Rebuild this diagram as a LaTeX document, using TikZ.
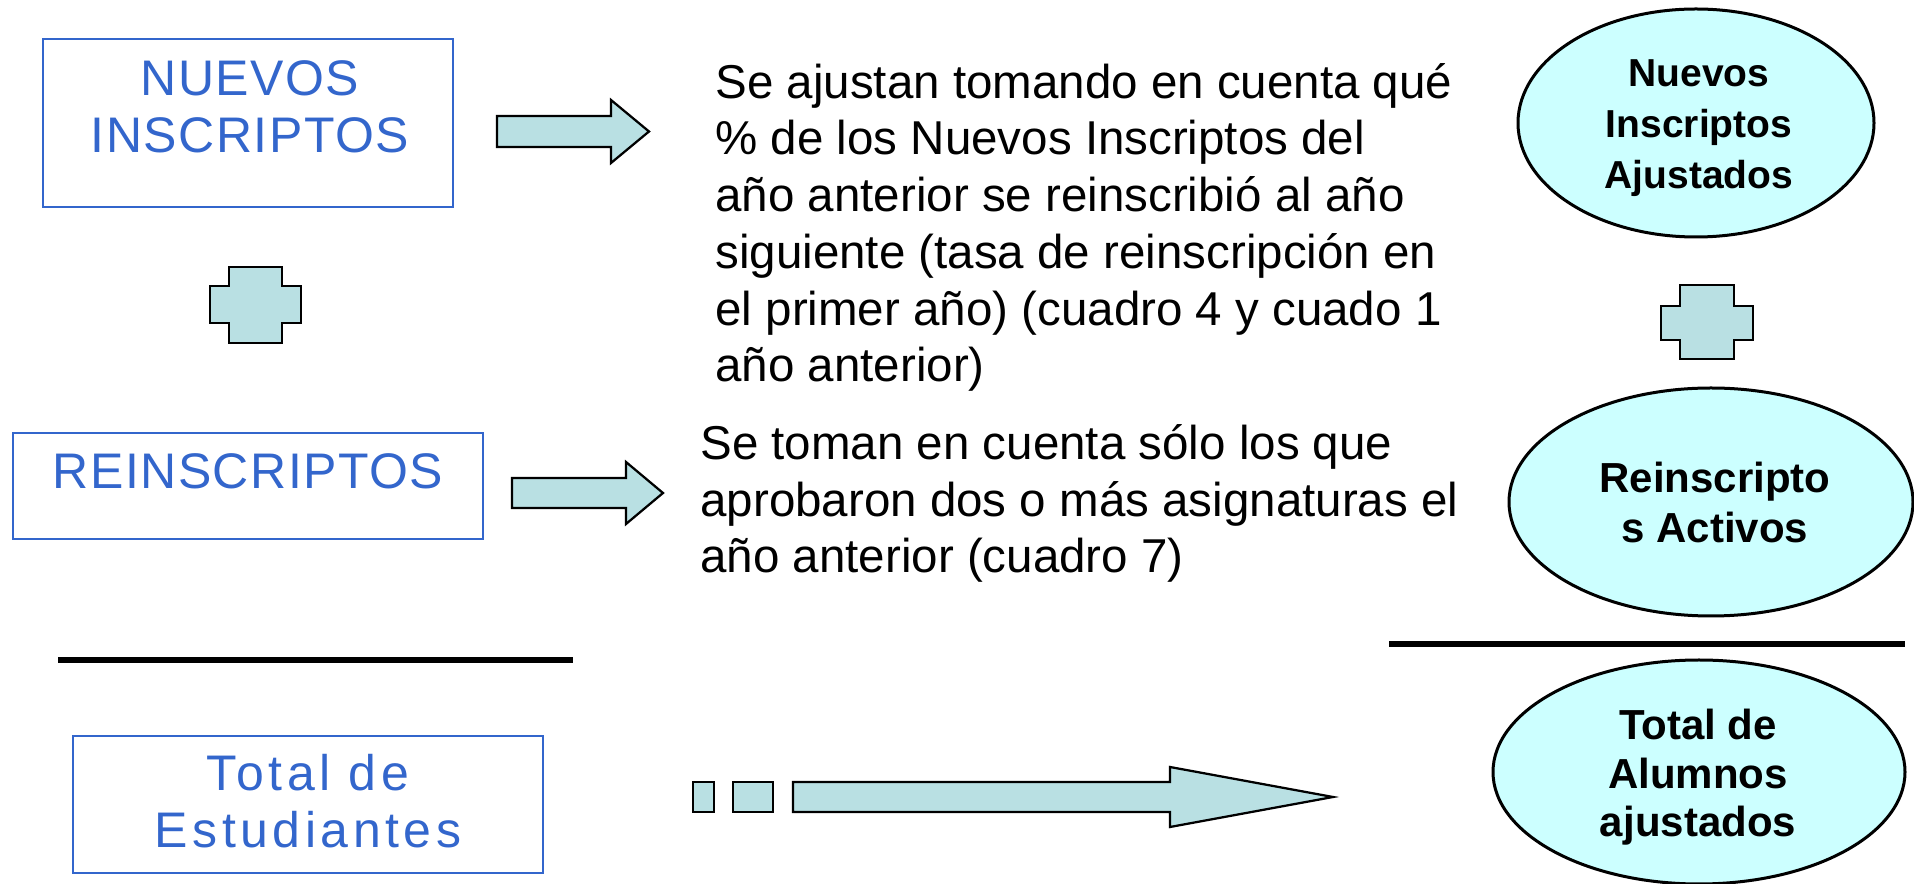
\documentclass[tikz,border=0pt]{standalone}
\usepackage{fontspec}
\setmainfont{Liberation Sans}
\newfontfamily\capsfont[LetterSpace=3]{Liberation Sans}
\newfontfamily\lowfont[LetterSpace=9]{Liberation Sans}
\usetikzlibrary{shapes.geometric}
\definecolor{boxblue}{HTML}{3366CC}
\definecolor{ovalfill}{HTML}{CCFFFF}
\definecolor{arrowfill}{HTML}{B9E0E3}
\begin{document}
\begin{tikzpicture}[x=0.4pt,y=-0.4pt,
  bluebox/.style={draw=boxblue, line width=1.1pt},
  bluetext/.style={text=boxblue, font=\capsfont\fontsize{20pt}{22.8pt}\selectfont, align=center, inner sep=0, anchor=base},
  bluetextlow/.style={bluetext, font=\lowfont\fontsize{20pt}{22.8pt}\selectfont},
  note/.style={font=\fontsize{19pt}{22.7pt}\selectfont, align=left, inner sep=0, anchor=base west},
  oval/.style={ellipse, draw=black, fill=ovalfill, line width=1.2pt, inner sep=0},
  ovaltext/.style={font=\bfseries\fontsize{16.8pt}{20pt}\selectfont, align=center, inner sep=0, anchor=base},
  block/.style={draw=black, fill=arrowfill, line width=0.9pt, line join=miter},
  rule/.style={line width=2.6pt}
]
\useasboundingbox (0,0) rectangle (1914,884);

% left boxes (text nodes anchored at the baseline of their last line)
\draw[bluebox] (43,39) rectangle (453,207);
\node[bluetext] (nuevos) at (250,153) {NUEVOS\\INSCRIPTOS};
\draw[bluebox] (13,433) rectangle (483,539);
\node[bluetext] (reins) at (248,489) {REINSCRIPTOS};
\draw[bluebox] (73,736) rectangle (543,873);
\node[bluetextlow] (total) at (308,848) {Total de\\Estudiantes};

% plus signs
\draw[block] (229,267) -- (282,267) -- (282,286) -- (301,286) -- (301,323) -- (282,323) -- (282,343) -- (229,343) -- (229,323) -- (210,323) -- (210,286) -- (229,286) -- cycle;
\draw[block] (1680,285) -- (1734,285) -- (1734,306) -- (1753,306) -- (1753,340) -- (1734,340) -- (1734,359) -- (1680,359) -- (1680,340) -- (1661,340) -- (1661,306) -- (1680,306) -- cycle;

% block arrows
\draw[block] (497,116) -- (611,116) -- (611,100) -- (649,131.5) -- (611,163) -- (611,147) -- (497,147) -- cycle;
\draw[block] (512,478) -- (626,478) -- (626,462) -- (663,493) -- (626,524) -- (626,508) -- (512,508) -- cycle;
\draw[block] (693,782) rectangle (714,812);
\draw[block] (733,782) rectangle (773,812);
\draw[block] (793,782) -- (1170,782) -- (1170,767) -- (1333,797) -- (1170,827) -- (1170,812) -- (793,812) -- cycle;

% notes
\node[note] (note1) at (715,382) {Se ajustan tomando en cuenta qué\\\% de los Nuevos Inscriptos del\\año anterior se reinscribió al año\\siguiente (tasa de reinscripción en\\el primer año) (cuadro 4 y cuado 1\\año anterior)};
\node[note] (note2) at (700,573) {Se toman en cuenta sólo los que\\aprobaron dos o más asignaturas el\\año anterior (cuadro 7)};

% rules
\draw[rule] (58,660) -- (573,660);
\draw[rule] (1389,644) -- (1905,644);

% ovals
\node[oval, minimum width=142.4pt, minimum height=91.2pt] (e1) at (1696,123) {};
\node[ovaltext, font=\bfseries\fontsize{15.6pt}{20.4pt}\selectfont] (t1) at (1699,189) {Nuevos\\Inscriptos\\Ajustados};
\node[oval, minimum width=161.6pt, minimum height=91.2pt] (e2) at (1711,502) {};
\node[ovaltext] (t2) at (1715,543) {Reinscripto\\s Activos};
\node[oval, minimum width=164.8pt, minimum height=89.6pt] (e3) at (1699,772) {};
\node[ovaltext, font=\bfseries\fontsize{16.8pt}{19.4pt}\selectfont] (t3) at (1698,837) {Total de\\Alumnos\\ajustados};
\end{tikzpicture}
\end{document}
